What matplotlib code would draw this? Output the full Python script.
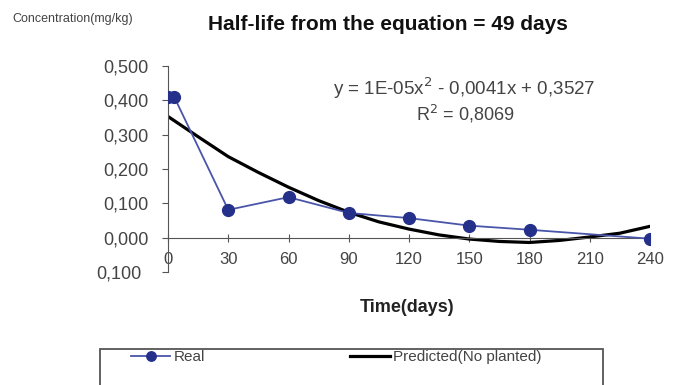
import matplotlib
matplotlib.use("Agg")
import matplotlib.pyplot as plt
from matplotlib.patches import Rectangle
from matplotlib.transforms import ScaledTranslation

plt.rcParams['font.family'] = ['Liberation Sans', 'DejaVu Sans']

# Measured residues
real_days = [0, 3, 30, 60, 90, 120, 150, 180, 240]
real_conc = [0.411, 0.411, 0.081, 0.118, 0.072, 0.057, 0.035, 0.023, -0.003]

# Trend line (no planted)
pred_days = [0, 15, 30, 45, 60, 75, 90, 105, 120, 135, 150, 165, 180, 195, 210, 225, 240]
pred_conc = [0.353, 0.294, 0.236, 0.190, 0.147, 0.108, 0.074, 0.046, 0.025, 0.008,
             -0.004, -0.011, -0.014, -0.008, 0.002, 0.013, 0.033]

x_ticks = [0, 30, 60, 90, 120, 150, 180, 210, 240]
y_ticks = [-0.1, 0.0, 0.1, 0.2, 0.3, 0.4, 0.5]
y_labels = ['0,100', '0,000', '0,100', '0,200', '0,300', '0,400', '0,500']

W, H = 673, 385
fig = plt.figure(figsize=(W / 100, H / 100), dpi=100)
ax = fig.add_axes([168 / W, 1 - 272 / H, (650 - 168) / W, (272 - 66) / H])

real_line, = ax.plot(real_days, real_conc, color='#4a55aa', lw=1.3,
                     marker='o', ms=8.5, mfc='#24308a', mec='#24308a', zorder=3)
pred_line, = ax.plot(pred_days, pred_conc, color='black', lw=2.3, zorder=2)

ax.set_xlim(0, 240)
ax.set_ylim(-0.1, 0.5)
ax.spines['top'].set_visible(False)
ax.spines['right'].set_visible(False)
ax.spines['bottom'].set_position(('data', 0))
ax.spines['bottom'].set_color('#555555')
ax.spines['left'].set_color('#555555')
ax.set_xticks(x_ticks)
ax.set_xticklabels([str(v) for v in x_ticks])
ax.set_yticks(y_ticks)
ax.set_yticklabels(y_labels)
ax.tick_params(axis='x', direction='inout', length=6, pad=7, labelsize=12,
               labelcolor='#444444', color='#555555')
ax.tick_params(axis='y', direction='out', length=4, pad=10, labelsize=13,
               labelcolor='#444444', color='#555555')
ax.set_facecolor('none')

# the lowest y label sits a little further left
low = ax.get_yticklabels()[0]
low.set_transform(low.get_transform() + ScaledTranslation(-0.07, 0, fig.dpi_scale_trans))

fig.text(12 / W, 1 - 19 / H, 'Concentration(mg/kg)', fontsize=9, color='#444444',
         va='center', ha='left')
fig.text(388 / W, 1 - 24 / H, 'Half-life from the equation = 49 days', fontsize=15,
         fontweight='bold', va='center', ha='center', color='#111111')
fig.text(464 / W, 1 - 88 / H, 'y = 1E-05x$^2$ - 0,0041x + 0,3527', fontsize=13.5,
         va='center', ha='center', color='#444444')
fig.text(465 / W, 1 - 114 / H, 'R$^2$ = 0,8069', fontsize=13,
         va='center', ha='center', color='#444444')
fig.text(407 / W, 1 - 307 / H, 'Time(days)', fontsize=13, fontweight='bold',
         va='center', ha='center', color='#222222')

leg = fig.legend([real_line, pred_line], ['Real', 'Predicted(No planted)'],
                 loc='center left', ncol=2, bbox_to_anchor=(117 / W, 1 - 357 / H),
                 frameon=False, fontsize=11, handlelength=2.6,
                 handletextpad=0.2, columnspacing=9.5, markerscale=0.8)
for t in leg.get_texts():
    t.set_color('#444444')

fig.patches.append(Rectangle((100 / W, -0.05), 503 / W, 0.05 + (385 - 349) / H,
                             transform=fig.transFigure, fill=False,
                             edgecolor='#555555', lw=1.3))

fig.savefig('out.png', dpi=100)
